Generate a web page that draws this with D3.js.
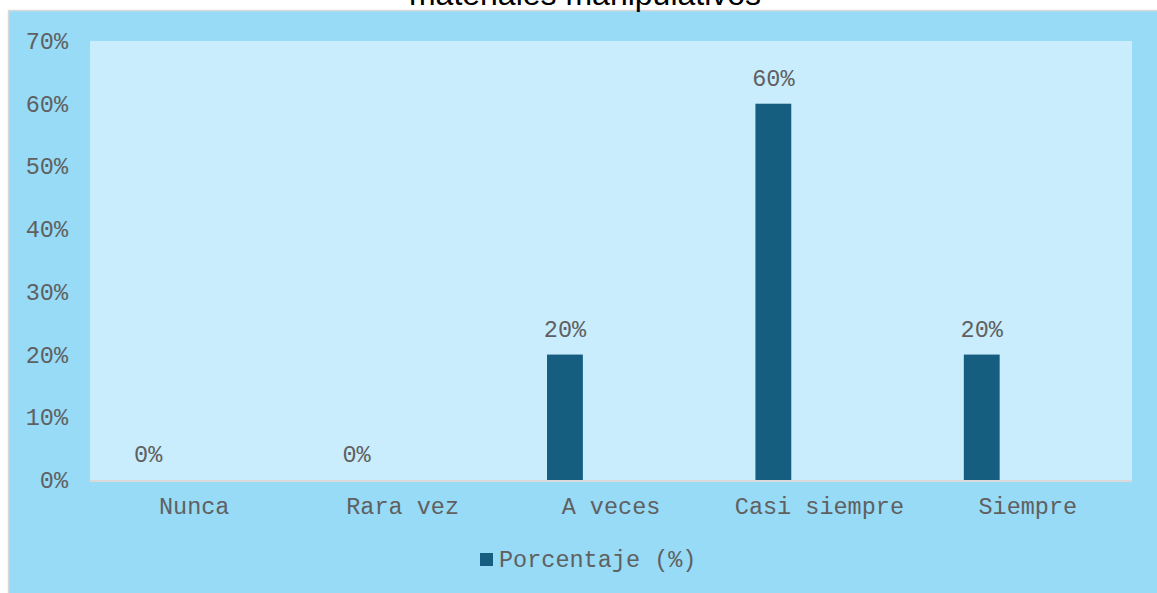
<!DOCTYPE html>
<html>
<head>
<meta charset="utf-8">
<script src="https://cdn.jsdelivr.net/npm/d3@7"></script>
<style>
  html, body { margin: 0; padding: 0; background: #ffffff; }
  svg { display: block; }
  text { font-family: "Liberation Mono", "Courier New", monospace; }
</style>
</head>
<body>
<svg id="chart" width="1157" height="593"></svg>
<script>
// Survey answers and their share of respondents
const categories = ["Nunca", "Rara vez", "A veces", "Casi siempre", "Siempre"];
const porcentaje = [0, 0, 0.20, 0.60, 0.20];
const yTicks = [0, 0.1, 0.2, 0.3, 0.4, 0.5, 0.6, 0.7];
const seriesName = "Porcentaje (%)";
const titleText = "materiales manipulativos";

const W = 1157, H = 593;
const plot = { left: 90, right: 1132, top: 41, bottom: 480 };
const colors = {
  outer: "#97dbf7",
  inner: "#c9edfc",
  border: "#d9d9d9",
  bar: "#165e7f",
  text: "#606060"
};

const svg = d3.select("#chart");

// chart area background with its light frame on the top and left
svg.append("rect")
  .attr("x", 9).attr("y", 11)
  .attr("width", W - 9).attr("height", H - 11)
  .attr("fill", colors.outer);
svg.append("line")
  .attr("x1", 8.5).attr("x2", 8.5).attr("y1", 10).attr("y2", H)
  .attr("stroke", colors.border).attr("stroke-width", 1.5);
svg.append("line")
  .attr("x1", 8).attr("x2", W).attr("y1", 10.5).attr("y2", 10.5)
  .attr("stroke", colors.border).attr("stroke-width", 1.5);

// title (second line of a longer heading)
svg.append("text")
  .attr("x", 585).attr("y", 5)
  .attr("text-anchor", "middle")
  .style("font-family", "'Liberation Sans', Arial, sans-serif")
  .style("font-size", "32px")
  .attr("fill", "#000")
  .text(titleText);

// plot area
svg.append("rect")
  .attr("x", plot.left).attr("y", plot.top)
  .attr("width", plot.right - plot.left).attr("height", plot.bottom - plot.top)
  .attr("fill", colors.inner);

const x = d3.scaleBand()
  .domain(categories)
  .range([plot.left, plot.right])
  .padding(0);

const y = d3.scaleLinear()
  .domain([0, 0.7])
  .range([plot.bottom, plot.top]);

const pct = d3.format(".0%");
const fontSize = "23.5px";

// y axis labels
const yAxis = d3.axisLeft(y)
  .tickValues(yTicks)
  .tickFormat(pct)
  .tickSize(0)
  .tickPadding(0);
const gy = svg.append("g")
  .attr("transform", `translate(68,0)`)
  .call(yAxis);
gy.select(".domain").remove();
gy.selectAll("text")
  .attr("fill", colors.text)
  .style("font-size", fontSize)
  .style("font-family", "'Liberation Mono', monospace");

// bars sit in the left slot of each category band
const barOffset = 0.193, barWidth = 0.172;
const data = categories.map((c, i) => ({ cat: c, v: porcentaje[i] }));

svg.append("g").selectAll("rect")
  .data(data)
  .join("rect")
  .attr("x", d => x(d.cat) + x.bandwidth() * barOffset)
  .attr("width", x.bandwidth() * barWidth)
  .attr("y", d => y(d.v))
  .attr("height", d => y(0) - y(d.v))
  .attr("fill", colors.bar);

// value labels above bars
svg.append("g").selectAll("text")
  .data(data)
  .join("text")
  .attr("x", d => x(d.cat) + x.bandwidth() * (barOffset + barWidth / 2))
  .attr("y", d => y(d.v) - 18)
  .attr("text-anchor", "middle")
  .attr("fill", colors.text)
  .style("font-size", fontSize)
  .text(d => pct(d.v));

// category axis
const xAxis = d3.axisBottom(x).tickSize(0).tickPadding(0);
const gx = svg.append("g")
  .attr("transform", `translate(0,${plot.bottom})`)
  .call(xAxis);
gx.select(".domain").remove();
gx.selectAll("text")
  .attr("dy", null)
  .attr("y", 34)
  .attr("fill", colors.text)
  .style("font-size", fontSize)
  .style("font-family", "'Liberation Mono', monospace");
svg.append("line")
  .attr("x1", plot.left).attr("x2", plot.right)
  .attr("y1", plot.bottom + 1).attr("y2", plot.bottom + 1)
  .attr("stroke", colors.border).attr("stroke-width", 2);

// legend
const lg = svg.append("g").attr("transform", "translate(480,553)");
lg.append("rect")
  .attr("width", 13).attr("height", 13)
  .attr("fill", colors.bar);
lg.append("text")
  .attr("x", 19).attr("y", 13.5)
  .attr("fill", colors.text)
  .style("font-size", fontSize)
  .text(seriesName);
</script>
</body>
</html>
